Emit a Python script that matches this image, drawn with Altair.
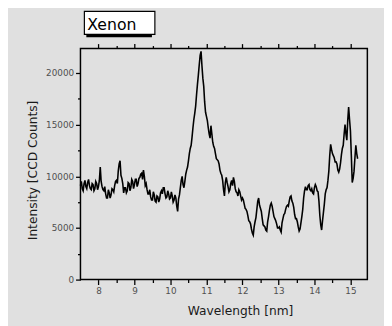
import altair as alt
import pandas as pd

wavelength = [
    7.50, 7.55, 7.60, 7.65, 7.70, 7.75, 7.80, 7.85, 7.90, 7.95,
    8.00, 8.05, 8.10, 8.15, 8.20, 8.25, 8.30, 8.35, 8.40, 8.45,
    8.50, 8.55, 8.60, 8.65, 8.70, 8.75, 8.80, 8.85, 8.90, 8.95,
    9.00, 9.05, 9.10, 9.15, 9.20, 9.25, 9.30, 9.35, 9.40, 9.45,
    9.50, 9.55, 9.60, 9.65, 9.70, 9.75, 9.80, 9.85, 9.90, 9.95,
    10.00, 10.05, 10.10, 10.15, 10.20, 10.25, 10.30, 10.35, 10.40, 10.45,
    10.50, 10.55, 10.60, 10.65, 10.70, 10.75, 10.80, 10.85, 10.90, 10.95,
    11.00, 11.05, 11.10, 11.15, 11.20, 11.25, 11.30, 11.35, 11.40, 11.45,
    11.50, 11.55, 11.60, 11.65, 11.70, 11.75, 11.80, 11.85, 11.90, 11.95,
    12.00, 12.05, 12.10, 12.15, 12.20, 12.25, 12.30, 12.35, 12.40, 12.45,
    12.50, 12.55, 12.60, 12.65, 12.70, 12.75, 12.80, 12.85, 12.90, 12.95,
    13.00, 13.05, 13.10, 13.15, 13.20, 13.25, 13.30, 13.35, 13.40, 13.45,
    13.50, 13.55, 13.60, 13.65, 13.70, 13.75, 13.80, 13.85, 13.90, 13.95,
    14.00, 14.05, 14.10, 14.15, 14.20, 14.25, 14.30, 14.35, 14.40, 14.45,
    14.50, 14.55, 14.60, 14.65, 14.70, 14.75, 14.80, 14.85, 14.90, 14.95,
    15.00, 15.05, 15.10, 15.15, 15.20,
]

intensity = [
    9100, 8800, 9300, 9000, 9400, 9100, 8700, 9200, 8800, 9300,
    9000, 10900, 9000, 8600, 8300, 7900, 8400, 8200, 8700, 9100,
    9600, 10500, 11500, 9800, 8400, 8900, 8600, 9300, 8900, 9500,
    9200, 9700, 9300, 9900, 10300, 10600, 9100, 8700, 8300, 8000,
    7700, 8200, 7500, 8000, 7800, 8600, 8900, 8300, 8000, 8300,
    7900, 8100, 7700, 7900, 6600, 8200, 9600, 9200, 9500, 10600,
    11500, 12700, 13800, 15500, 16800, 18900, 20800, 22100, 19500, 17200,
    15800, 14700, 13700, 14100, 12900, 12200, 11600, 11200, 10300, 9600,
    8100, 9900, 9000, 8700, 9600, 9900, 8800, 8400, 8700, 8100,
    7900, 7300, 6800, 6200, 5600, 4900, 4300, 5600, 6800, 7900,
    6900, 5900, 5200, 4800, 5600, 6700, 7400, 6600, 5900, 5400,
    5000, 4800, 5500, 6300, 6800, 7200, 7600, 8100, 7400, 6300,
    5900, 5100, 4900, 6100, 7900, 9000, 8700, 9200, 8600, 8400,
    8900, 9000, 8500, 6200, 4800, 6500, 8300, 8900, 10500, 13100,
    12200, 11800, 11400, 10600, 10700, 12100, 13000, 15000, 13500, 16700,
    14400, 9400, 10500, 13000, 11700,
]

# readings taken between the points above (the spectrum is very noisy)
wavelength_mid = [
    7.525, 7.575, 7.625, 7.675, 7.725, 7.775, 7.825, 7.875, 7.925, 7.975,
    8.025, 8.075, 8.125, 8.175, 8.225, 8.275, 8.325, 8.375, 8.425, 8.475,
    8.525, 8.575, 8.625, 8.675, 8.725, 8.775, 8.825, 8.875, 8.925, 8.975,
    9.025, 9.075, 9.125, 9.175, 9.225, 9.275, 9.325, 9.375, 9.425, 9.475,
    9.525, 9.575, 9.625, 9.675, 9.725, 9.775, 9.825, 9.875, 9.925, 9.975,
    10.025, 10.075, 10.125, 10.175, 10.225, 10.275, 10.325, 10.375, 10.425, 10.475,
    10.525, 10.575, 10.625, 10.675, 10.725, 10.775, 10.825, 10.875, 10.925, 10.975,
    11.025, 11.075, 11.125, 11.175, 11.225, 11.275, 11.325, 11.375, 11.425, 11.475,
    11.525, 11.575, 11.625, 11.675, 11.725, 11.775, 11.825, 11.875, 11.925, 11.975,
    12.025, 12.075, 12.125, 12.175, 12.225, 12.275, 12.325, 12.375, 12.425, 12.475,
    12.525, 12.575, 12.625, 12.675, 12.725, 12.775, 12.825, 12.875, 12.925, 12.975,
    13.025, 13.075, 13.125, 13.175, 13.225, 13.275, 13.325, 13.375, 13.425, 13.475,
    13.525, 13.575, 13.625, 13.675, 13.725, 13.775, 13.825, 13.875, 13.925, 13.975,
    14.025, 14.075, 14.125, 14.175, 14.225, 14.275, 14.325, 14.375, 14.425, 14.475,
    14.525, 14.575, 14.625, 14.675, 14.725, 14.775, 14.825, 14.875, 14.925, 14.975,
    15.025, 15.075, 15.125, 15.175,
]

intensity_mid = [
    9500, 8600, 9600, 8800, 9700, 8800, 9300, 8600, 9500, 8700,
    9600, 9500, 8700, 9000, 7900, 8700, 7900, 8800, 8500, 9500,
    9300, 11200, 10100, 9300, 8900, 8400, 9400, 8600, 9700, 8800,
    9700, 9000, 9800, 10200, 9700, 10000, 9300, 8300, 8700, 7700,
    8500, 7600, 8100, 7500, 8400, 8300, 8900, 7900, 8600, 7800,
    8500, 7500, 8200, 7100, 7800, 8900, 10000, 8900, 10200, 10900,
    12200, 13000, 14700, 16100, 17900, 19800, 21700, 20700, 18700, 16200,
    15400, 14100, 14900, 13300, 12700, 11700, 11500, 10600, 10100, 8700,
    9400, 9400, 8500, 9300, 9100, 9500, 8500, 8100, 8500, 7700,
    7700, 6900, 6600, 5700, 5400, 4500, 5100, 6000, 7600, 7200,
    6600, 5300, 5100, 4700, 6100, 7200, 7100, 6100, 5700, 5000,
    5100, 4600, 5900, 6400, 7100, 7100, 8000, 7600, 7000, 5900,
    5600, 4700, 5500, 6800, 8600, 8700, 9100, 8700, 8800, 8300,
    9200, 8600, 7600, 5300, 5700, 7300, 8700, 9600, 12000, 12600,
    12000, 11400, 11200, 10400, 11300, 12700, 14100, 14100, 15400, 15500,
    12000, 9800, 11800, 12200,
]

x_major = [8, 9, 10, 11, 12, 13, 14, 15]
x_minor = [8.5, 9.5, 10.5, 11.5, 12.5, 13.5, 14.5]
y_major = [0, 5000, 10000, 15000, 20000]
y_minor = [2500, 7500, 12500, 17500]

df = pd.DataFrame({"wl": wavelength + wavelength_mid, "I": intensity + intensity_mid})
df = df.sort_values("wl").reset_index(drop=True)

xs = alt.Scale(domain=[7.5, 15.47], nice=False, zero=False)
ys = alt.Scale(domain=[0, 22370], nice=False)

W, H = 293, 236
FONT = "DejaVu Sans"

common_axis = dict(grid=False, domain=False, tickColor="black", tickWidth=1.3,
                   labelFont=FONT, labelFontSize=9, labelColor="#505050",
                   titleFont=FONT, titleColor="#1a1a1a")

base = alt.Chart(df)

main = base.mark_line(color="black", strokeWidth=1.6).encode(
    x=alt.X("wl:Q", sort=None, scale=xs, axis=alt.Axis(
        orient="bottom", values=x_major, format="d", tickSize=5, labelPadding=2,
        title="Wavelength [nm]", titleFontSize=12.5, titleFontWeight="normal",
        titleX=163, titleY=36, titleBaseline="alphabetic", titleAnchor="start",
        titleAlign="center", **common_axis)),
    y=alt.Y("I:Q", scale=ys, axis=alt.Axis(
        orient="left", values=y_major, format="d", tickSize=5, labelPadding=2,
        title="Intensity [CCD Counts]", titleFontSize=12.5, titleFontWeight="normal",
        titleX=-49, titleY=124, titleAngle=270, titleAlign="center",
        titleBaseline="middle", titleAnchor="start", **common_axis)),
)

minor_bl = base.mark_line(opacity=0).encode(
    x=alt.X("wl:Q", scale=xs, axis=alt.Axis(
        orient="bottom", values=x_minor, tickSize=3, labels=False, title=None,
        **common_axis)),
    y=alt.Y("I:Q", scale=ys, axis=alt.Axis(
        orient="left", values=y_minor, tickSize=3, labels=False, title=None,
        **common_axis)),
)

top_major = base.mark_line(opacity=0).encode(
    x=alt.X("wl:Q", scale=xs, axis=alt.Axis(
        orient="top", values=x_major, tickSize=5, labels=False, title=None,
        **common_axis)),
    y=alt.Y("I:Q", scale=ys, axis=None),
)

top_minor = base.mark_line(opacity=0).encode(
    x=alt.X("wl:Q", scale=xs, axis=alt.Axis(
        orient="top", values=x_minor, tickSize=3, labels=False, title=None,
        **common_axis)),
    y=alt.Y("I:Q", scale=ys, axis=None),
)

# legend box with shadow
one = alt.Chart(df).transform_filter("datum.wl == 7.5")

shadow = one.mark_rect(color="black").encode(
    x=alt.value(6), x2=alt.value(73), y=alt.value(-16), y2=alt.value(-11.5)
)

box = one.mark_rect(fill="white", stroke="black", strokeWidth=1.2).encode(
    x=alt.value(4), x2=alt.value(76), y=alt.value(-38), y2=alt.value(-14.5)
)

label = one.mark_text(
    text="Xenon", font=FONT, fontSize=16, align="left", baseline="alphabetic", color="black"
).encode(x=alt.value(7), y=alt.value(-19))

chart = alt.layer(main, minor_bl, top_major, top_minor, shadow, box, label).resolve_axis(
    x="independent", y="independent"
).properties(
    width=W, height=H,
    background="#e0e0e0",
    padding={"left": 74, "top": 38, "right": 17, "bottom": 44},
    autosize=alt.AutoSizeParams(type="none"),
).configure_view(stroke="black", strokeWidth=1.5)

chart.save("out.html", embed_options={"renderer": "svg", "actions": False})
